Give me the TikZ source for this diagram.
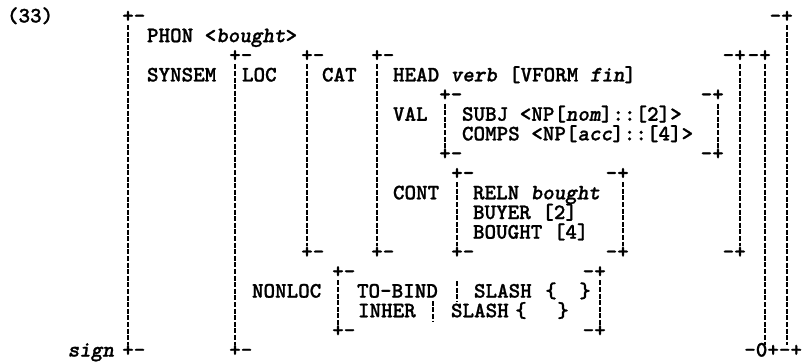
\documentclass[tikz,border=0pt]{standalone}
\usepackage{fontspec}
\newfontfamily\avm{lmmonolt10-bold.otf}[ItalicFont=lmmonolt10-boldoblique.otf, FakeBold=1]
\usetikzlibrary{calc}
\newcommand\rowC[1]{(16+19.65*(#1))}
\newcommand\rowB[1]{(22.5+19.65*(#1))}
\tikzset{
  txt/.style={anchor=base west, inner sep=0pt, outer sep=0pt,
    text height=12pt, text depth=2.5pt,
    font=\fontsize{22}{24}\selectfont\avm},
  crnL/.style={txt, anchor=base west},
  crnR/.style={txt, anchor=base east},
  bar/.style={line width=2.2pt, dash pattern=on 5pt off 1.6pt},
}
\newcommand\lbrk[4]{%
  \node[crnL] (#1t) at ({#2-5.78},{\rowB{#3}}) {+-};
  \node[crnL] (#1b) at ({#2-5.78},{\rowB{#4}}) {+-};
  \draw[bar] ([xshift=5.78pt]#1t.south west) -- ([xshift=5.78pt]#1b.north west);}
\newcommand\rbrk[4]{%
  \node[crnR] (#1t) at ({#2+5.78},{\rowB{#3}}) {-+};
  \node[crnR] (#1b) at ({#2+5.78},{\rowB{#4}}) {-+};
  \draw[bar] ([xshift=-5.78pt]#1t.south east) -- ([xshift=-5.78pt]#1b.north east);}
\begin{document}
\begin{tikzpicture}[x=1pt,y=-1pt]
\useasboundingbox (0,0) rectangle (802,362);
% texts
\node[txt] (n33) at (7,{\rowB{0}}) {(33)};
\node[txt] (phon) at (147,{\rowB{1}}) {PHON <\textit{bought}>};
\node[txt] (synsem) at (147,{\rowB{3}}) {SYNSEM};
\node[txt] (loc) at (242,{\rowB{3}}) {LOC};
\node[txt] (cat) at (322,{\rowB{3}}) {CAT};
\node[txt] (head) at (393,{\rowB{3}}) {HEAD \textit{verb} [VFORM \textit{fin}]};
\node[txt] (val) at (393,{\rowB{5}}) {VAL};
\node[txt] (subj) at (462,{\rowB{5}}) {SUBJ <NP[\textit{nom}]::[2]>};
\node[txt] (comps) at (462,{\rowB{6}}) {COMPS <NP[\textit{acc}]::[4]>};
\node[txt] (cont) at (393,{\rowB{9}}) {CONT};
\node[txt] (reln) at (473,{\rowB{9}}) {RELN \textit{bought}};
\node[txt] (buyer) at (473,{\rowB{10}}) {BUYER [2]};
\node[txt] (bought) at (473,{\rowB{11}}) {BOUGHT [4]};
\node[txt] (nonloc) at (252,{\rowB{14}}) {NONLOC};
\node[txt] (tobind) at (357,{\rowB{14}}) {TO-BIND};
\node[txt] (slasha) at (474,{\rowB{14}}) {SLASH};
\node[txt, anchor=base] (lba) at (551,{\rowB{14}}) {\{};
\node[txt, anchor=base] (rba) at (585,{\rowB{14}}) {\}};
\node[txt] (inher) at (358,{\rowB{15}}) {INHER};
\node[txt] (slashb) at (451,{\rowB{15}}) {SLASH};
\node[txt, anchor=base] (lbb) at (521,{\rowB{15}}) {\{};
\node[txt, anchor=base] (rbb) at (563,{\rowB{15}}) {\}};
\node[txt, anchor=base east] (sign) at (114,{\rowB{17}}) {\textit{sign}};
% inline bars
\draw[bar] (457,{\rowC{14}-10}) -- (457,{\rowC{14}+10});
\draw[bar] (433,{\rowC{15}-10}) -- (433,{\rowC{15}+10});
% left brackets
\lbrk{o}{128}{0}{17}
\lbrk{s}{235}{2}{17}
\lbrk{l}{307}{2}{12}
\lbrk{c}{377}{2}{12}
\lbrk{v}{445}{4}{7}
\lbrk{k}{457}{8}{12}
\lbrk{n}{338}{13}{16}
% right brackets
\rbrk{lr}{740}{2}{12}
\rbrk{vr}{718}{4}{7}
\rbrk{kr}{623}{8}{12}
\rbrk{nr}{600}{13}{16}
\node[crnR] (oRt) at ({787+5.78},{\rowB{0}}) {-+};
\node[crnR] (sRt) at ({765+5.78},{\rowB{2}}) {-+};
\node[txt, anchor=base east] (rb) at (802,{\rowB{17}}) {-0+-+};
\coordinate (oRx) at ([xshift=-5.78pt]oRt.south east);
\coordinate (sRx) at ([xshift=-5.78pt]sRt.south east);
\draw[bar] (oRx) -- (oRx |- rb.north);
\draw[bar] (sRx) -- (sRx |- rb.north);
\end{tikzpicture}
\end{document}
